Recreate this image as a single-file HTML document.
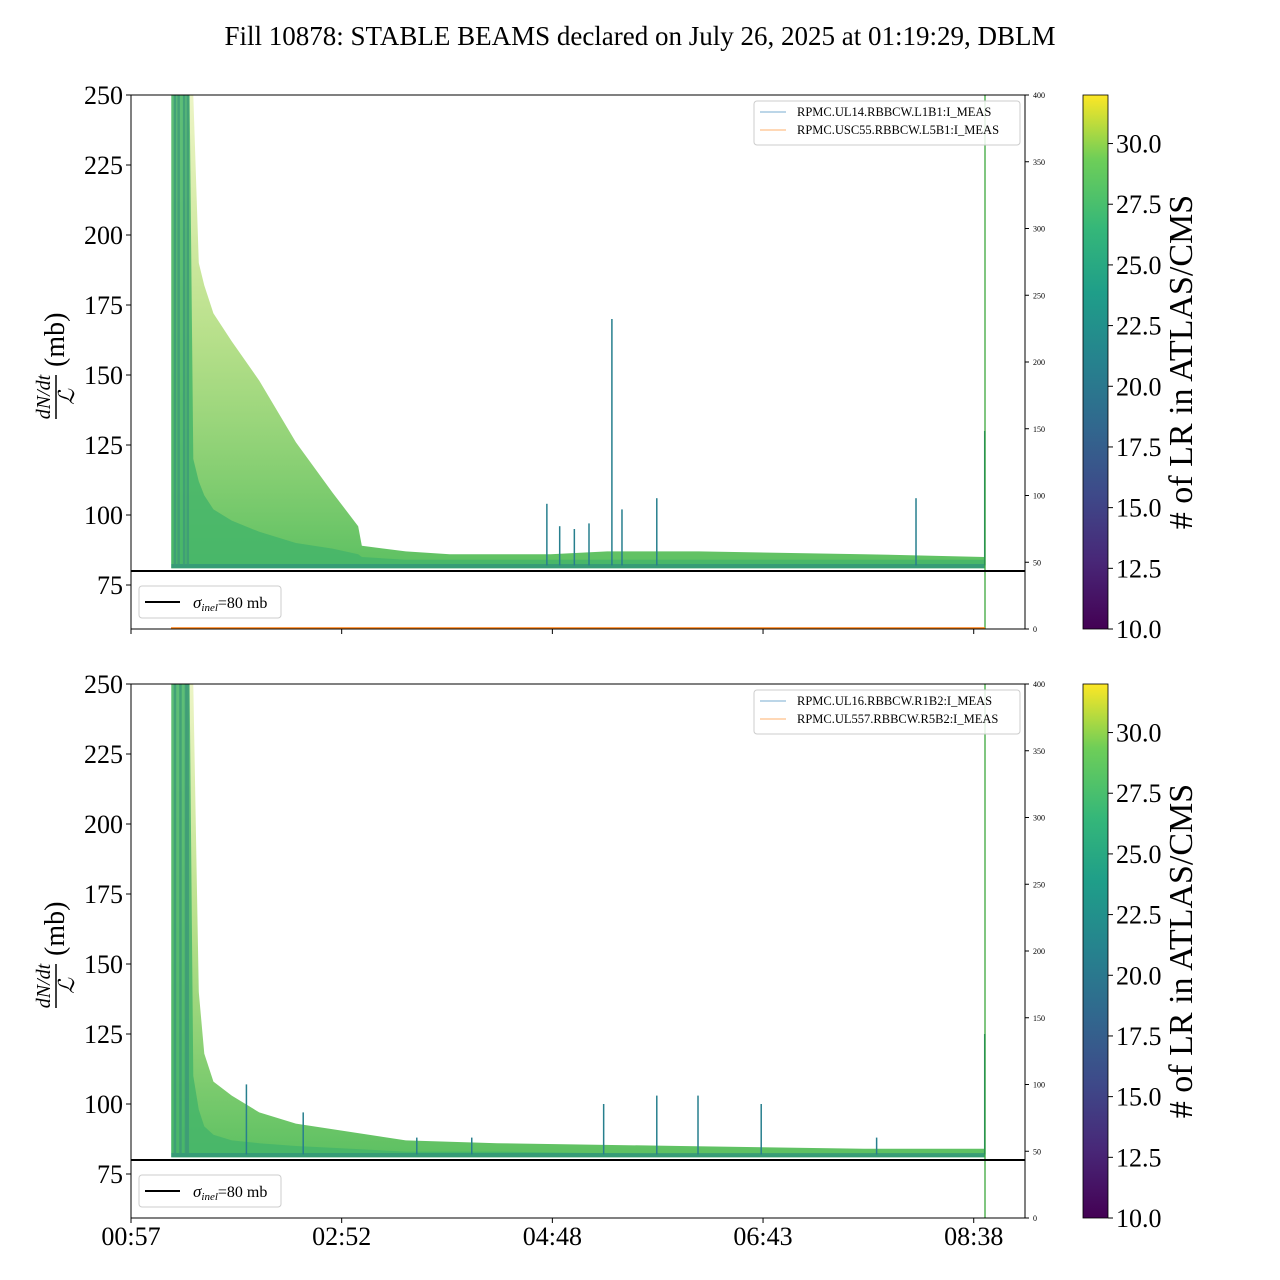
<!DOCTYPE html>
<html><head><meta charset="utf-8"><style>
body{margin:0;background:#fff}
svg{display:block;font-family:"Liberation Serif",serif}
</style></head><body>
<svg id="fig" width="1280" height="1280" xmlns="http://www.w3.org/2000/svg">
<defs>
<linearGradient id="vir" x1="0" y1="1" x2="0" y2="0">
<stop offset="0" stop-color="#440154"/><stop offset="0.13" stop-color="#482878"/><stop offset="0.25" stop-color="#3e4989"/><stop offset="0.38" stop-color="#31688e"/><stop offset="0.5" stop-color="#26828e"/><stop offset="0.63" stop-color="#1f9e89"/><stop offset="0.75" stop-color="#35b779"/><stop offset="0.88" stop-color="#6ece58"/><stop offset="1" stop-color="#fde725"/>
</linearGradient>
<linearGradient id="band" x1="0" y1="0" x2="0" y2="1">
<stop offset="0" stop-color="#c8e05a" stop-opacity="0.35"/><stop offset="0.5" stop-color="#9ad35a" stop-opacity="0.7"/><stop offset="1" stop-color="#5cc062"/>
</linearGradient>
</defs>
<text x="640" y="45" font-size="27" text-anchor="middle">Fill 10878: STABLE BEAMS declared on July 26, 2025 at 01:19:29, DBLM</text>
<g id="p0"></g><g id="p1"></g>
</svg>
<script>
// shared time axis (minutes after 00:57)
const tickMinutes=[0,115,230,345,460];
const tickLabels=["00:57","02:52","04:48","06:43","08:38"];
const yTicks=[75,100,125,150,175,200,225,250];
const rightTicks=[0,50,100,150,200,250,300,350,400];
const cbTicks=[10,12.5,15,17.5,20,22.5,25,27.5,30];
// top panel envelope
const topTimes=[22,30,32,34,37,40,45,55,70,90,110,124,126,150,174,229,260,310,400,466];
const topUpper=[250,250,250,250,190,182,172,162,148,126,108,96,89,87,86,86,87,87,86,85];
const topCore=[250,250,250,120,112,107,102,98,94,90,88,86,85,84,84,84,84,84,84,84];
const topSpikeT=[24,26,29,31,227,234,242,250,262.5,268,287,428.5,466];
const topSpikeV=[250,250,250,250,104,96,95,97,170,102,106,106,130];
const topLegend=["RPMC.UL14.RBBCW.L1B1:I_MEAS","RPMC.USC55.RBBCW.L5B1:I_MEAS"];
// bottom panel envelope
const botTimes=[22,30,32,34,37,40,45,55,70,90,120,150,200,300,400,466];
const botUpper=[250,250,250,250,140,118,108,103,97,93,90,87,86,85,84,84];
const botCore=[250,250,250,110,98,92,89,87,86,85,84,83,83,82,82,82];
const botSpikeT=[24,27,30,31,63,94,156,186,258,287,309.5,344,407,466];
const botSpikeV=[250,250,250,250,107,97,88,88,100,103,103,100,88,125];
const botLegend=["RPMC.UL16.RBBCW.R1B2:I_MEAS","RPMC.UL557.RBBCW.R5B2:I_MEAS"];

const NS="http://www.w3.org/2000/svg";
function mk(parent,tag,attrs,txt){const e=document.createElementNS(NS,tag);for(const k in attrs)e.setAttribute(k,attrs[k]);if(txt!==undefined)e.textContent=txt;parent.appendChild(e);return e;}
const X0=131,X1=1025,PXM=1.832;
function xs(m){return X0+m*PXM;}
function drawPanel(gid,top,times,upper,core,spT,spV,legend,prefix){
  const H=534,bot=top+H;
  const ys=v=>top+(250-v)*2.8;
  const yr=v=>bot-v*H/400;
  const g=document.getElementById(gid);
  
  
  const clip=mk(g,'clipPath',{id:'c'+gid});mk(clip,'rect',{x:X0,y:top,width:X1-X0,height:H});
  const d=mk(g,'g',{'clip-path':'url(#c'+gid+')'});
  let pts=times.map((t,i)=>xs(t)+','+ys(upper[i]));
  pts.push(xs(times[times.length-1])+','+ys(81),xs(times[0])+','+ys(81));
  const env=mk(d,'polygon',{points:pts.join(' '),fill:'url(#band)'});
  
  
  let cp=times.map((t,i)=>xs(t)+','+ys(core[i]));
  cp.push(xs(times[times.length-1])+','+ys(81),xs(times[0])+','+ys(81));
  const cr=mk(d,'polygon',{points:cp.join(' '),fill:'#45b56a',opacity:'0.85'});
  
  
  mk(d,'rect',{x:xs(22),y:ys(82.5),width:xs(466)-xs(22),height:ys(81)-ys(82.5),fill:'#2a8a80',opacity:'0.6'});
  spT.forEach((t,i)=>{
    const early=t<35;
    const s=mk(d,'line',{x1:xs(t),x2:xs(t),y1:ys(82),y2:ys(spV[i]),stroke:early?'#3d9a78':'#277f8e','stroke-width':early?2.5:1.5,opacity:early?0.8:1});
    
    
  });
  mk(d,'line',{x1:985,x2:985,y1:top,y2:bot,stroke:'#2ca02c','stroke-width':1.5,opacity:0.8});
  if(prefix==='top')mk(d,'line',{x1:171,x2:985,y1:bot-1,y2:bot-1,stroke:'#ff7f0e','stroke-width':1.5});
  const ref=mk(g,'line',{x1:X0,x2:X1,y1:ys(80),y2:ys(80),stroke:'#000','stroke-width':2});
  
  
  mk(g,'rect',{x:X0,y:top,width:X1-X0,height:H,fill:'none',stroke:'#000','stroke-width':1});
  yTicks.forEach(v=>{mk(g,'line',{x1:X0-5,x2:X0,y1:ys(v),y2:ys(v),stroke:'#000'});
    const t=mk(g,'text',{x:X0-8,y:ys(v)+9,'font-size':26,'text-anchor':'end'},String(v));
    
    });
  rightTicks.forEach(v=>{mk(g,'line',{x1:X1,x2:X1+4,y1:yr(v),y2:yr(v),stroke:'#000'});
    const t=mk(g,'text',{x:X1+8,y:yr(v)+3,'font-size':8},String(v));
    
    });
  tickMinutes.forEach((m,i)=>{mk(g,'line',{x1:xs(m),x2:xs(m),y1:bot,y2:bot+5,stroke:'#000'});
    if(prefix==='bottom'){const t=mk(g,'text',{x:xs(m),y:bot+27,'font-size':26,'text-anchor':'middle'},tickLabels[i]);
      
      }});
  const yl=mk(g,'g',{transform:'translate(58,'+(top+H/2)+') rotate(-90)'});
  
  
  mk(yl,'text',{x:-35,y:-8,'font-size':20,'font-style':'italic','text-anchor':'middle'},'dN/dt');
  mk(yl,'line',{x1:-57,x2:-13,y1:-2,y2:-2,stroke:'#000','stroke-width':1.5});
  mk(yl,'text',{x:-35,y:16,'font-size':22,'font-style':'italic','text-anchor':'middle'},'ℒ');
  mk(yl,'text',{x:-5,y:6,'font-size':28},'(mb)');
  const lg=mk(g,'g',{});
  
  
  mk(lg,'rect',{x:139,y:ys(80)+15,width:142,height:32,rx:3,fill:'#fff',stroke:'#ccc'});
  mk(lg,'line',{x1:145,x2:180,y1:ys(80)+31,y2:ys(80)+31,stroke:'#000','stroke-width':2});
  const st=mk(lg,'text',{x:193,y:ys(80)+37,'font-size':16},'');
  mk(st,'tspan',{'font-style':'italic','font-size':17},'σ');
  mk(st,'tspan',{'font-style':'italic','font-size':11,dy:3},'inel');
  mk(st,'tspan',{dy:-3},'=80 mb');
  const cl=mk(g,'g',{});
  
  
  mk(cl,'rect',{x:754,y:top+6,width:266,height:44,rx:3,fill:'#fff',stroke:'#ccc','fill-opacity':0.85});
  mk(cl,'line',{x1:760,x2:786,y1:top+17,y2:top+17,stroke:'#1f77b4',opacity:0.6});
  mk(cl,'line',{x1:760,x2:786,y1:top+35,y2:top+35,stroke:'#ff7f0e',opacity:0.6});
  mk(cl,'text',{x:797,y:top+21,'font-size':12.5},legend[0]);
  mk(cl,'text',{x:797,y:top+39,'font-size':12.5},legend[1]);
  const cb=mk(g,'g',{});
  
  
  mk(cb,'rect',{x:1083,y:top,width:25,height:H,fill:'url(#vir)',stroke:'#000','stroke-width':0.8});
  const cy=v=>bot-(v-10)*H/22;
  cbTicks.forEach(v=>{mk(cb,'line',{x1:1108,x2:1113,y1:cy(v),y2:cy(v),stroke:'#000'});
    mk(cb,'text',{x:1116,y:cy(v)+9,'font-size':26},v.toFixed(1));});
  mk(cb,'text',{transform:'translate(1192,'+(top+H/2)+') rotate(-90)','font-size':34,'text-anchor':'middle'},'# of LR in ATLAS/CMS');
}
drawPanel('p0',95,topTimes,topUpper,topCore,topSpikeT,topSpikeV,topLegend,'top');
drawPanel('p1',684,botTimes,botUpper,botCore,botSpikeT,botSpikeV,botLegend,'bottom');
</script>
</body></html>
